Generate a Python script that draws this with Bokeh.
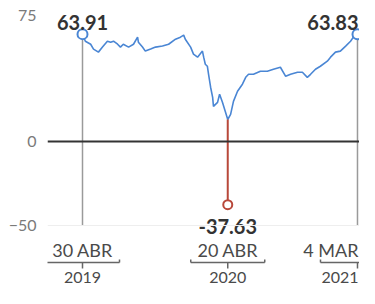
from datetime import datetime, timedelta
from bokeh.plotting import figure
from bokeh.models import Range1d, FixedTicker, Span
from bokeh.core.properties import value
from bokeh.embed import file_html
from bokeh.resources import INLINE

# ---- data ----
dates = ["2019-04-30", "2019-05-07", "2019-05-20", "2019-05-27", "2019-06-08", "2019-06-18",
         "2019-06-30", "2019-07-08", "2019-07-15", "2019-07-25", "2019-08-01", "2019-08-08",
         "2019-08-21", "2019-09-02", "2019-09-12", "2019-09-14", "2019-09-24", "2019-10-01",
         "2019-10-14", "2019-10-26", "2019-11-12", "2019-11-27", "2019-12-14", "2019-12-26",
         "2020-01-03", "2020-01-07", "2020-01-20", "2020-01-27", "2020-02-06", "2020-02-18",
         "2020-02-21", "2020-02-25", "2020-03-01", "2020-03-04", "2020-03-09", "2020-03-14",
         "2020-03-16", "2020-03-26", "2020-03-31", "2020-04-07", "2020-04-14", "2020-04-20",
         "2020-04-27", "2020-05-04", "2020-05-14", "2020-05-26", "2020-06-03", "2020-06-10",
         "2020-06-22", "2020-07-09", "2020-07-26", "2020-08-10", "2020-08-27", "2020-09-09",
         "2020-09-21", "2020-10-08", "2020-10-20", "2020-11-01", "2020-11-09", "2020-11-21",
         "2020-12-03", "2020-12-20", "2020-12-28", "2021-01-09", "2021-01-21", "2021-02-03",
         "2021-02-15", "2021-02-27", "2021-03-04"]
prices = [63.91, 59.7, 57.9, 55.0, 53.2, 56.2,
          59.7, 59.1, 59.7, 57.9, 56.2, 57.9,
          56.2, 57.9, 62.1, 59.1, 56.2, 53.8,
          55.0, 56.2, 56.8, 57.9, 60.9, 62.1,
          63.3, 60.9, 56.2, 52.0, 50.2, 53.8,
          50.2, 46.0, 44.8, 40.0, 32.3, 26.3,
          20.9, 23.3, 28.1, 23.3, 17.9, 13.1,
          16.1, 23.9, 29.9, 34.1, 38.2, 40.0,
          40.0, 41.8, 41.8, 43.0, 44.2, 38.8,
          40.0, 41.2, 41.2, 38.2, 40.0, 43.0,
          44.8, 47.8, 50.2, 53.2, 53.8, 56.8,
          59.7, 63.9, 63.83]

mark_dates = ["2019-04-30", "2020-04-20", "2021-03-04"]
mark_values = [63.91, -37.63, 63.83]
mark_labels = ["63.91", "-37.63", "63.83"]
day_labels = ["30 ABR", "20 ABR", "4 MAR"]
year_labels = ["2019", "2020", "2021"]
y_ticks = [-50, 0, 75]

# ---- layout constants ----
W, H = 359, 288
LEFT = 47
PX_PER_DAY = 0.408
X0_PX = 82
x0 = datetime(2019, 4, 30)
x_start = x0 - timedelta(days=(X0_PX - LEFT) / PX_PER_DAY)
x_end = x0 + timedelta(days=(W - X0_PX) / PX_PER_DAY)
ZERO_PX, PX_PER_UNIT = 141, 1.68
y_top = ZERO_PX / PX_PER_UNIT
y_bot = (ZERO_PX - H) / PX_PER_UNIT


def yv(px):
    return (ZERO_PX - px) / PX_PER_UNIT


d = [datetime.strptime(s, "%Y-%m-%d") for s in dates]
md = [datetime.strptime(s, "%Y-%m-%d") for s in mark_dates]

p = figure(width=W, height=H, x_axis_type="datetime", output_backend="svg",
           toolbar_location=None, x_range=Range1d(x_start, x_end),
           y_range=Range1d(y_bot, y_top),
           min_border_left=LEFT, min_border_right=0, min_border_top=0, min_border_bottom=0)
p.outline_line_color = None
p.xaxis.visible = False
p.xgrid.visible = False
p.ygrid.visible = False
p.background_fill_color = "white"

ax = p.yaxis[0]
ax.ticker = FixedTicker(ticks=y_ticks)
ax.axis_line_color = None
ax.major_tick_line_color = None
ax.minor_tick_line_color = None
ax.major_label_text_color = "#7a7a7a"
ax.major_label_text_font = "Lato"
ax.major_label_text_font_size = "16px"
ax.major_label_standoff = 5

# faint grid at -50 and zero line
p.add_layout(Span(location=-50, dimension="width", line_color="#eeeeee", line_width=1))
p.add_layout(Span(location=0, dimension="width", line_color="#333333", line_width=2))

# vertical gray drop lines at first and last dates
p.segment(x0=[md[0], md[2]], y0=[mark_values[0], mark_values[2]],
          x1=[md[0], md[2]], y1=[-50, -50], line_color="#9a9a9a", line_width=1.5)

# price line
p.line(d, prices, line_color="#4a86d4", line_width=1.6)

# red line down to the negative close
low_idx = dates.index(mark_dates[1])
p.segment(x0=[md[1]], y0=[prices[low_idx]], x1=[md[1]], y1=[mark_values[1]],
          line_color="#b8483a", line_width=2)

# markers
p.scatter([md[0], md[2]], [mark_values[0], mark_values[2]], size=10, marker="circle",
          fill_color="white", line_color="#4a86d4", line_width=2)
p.scatter([md[1]], [mark_values[1]], size=9, marker="circle",
          fill_color="white", line_color="#b8483a", line_width=2)

lab_font = value("Lato")

# value labels
p.text(md[:2], [yv(22), yv(226)], text=mark_labels[:2], text_font=lab_font,
       text_font_style="bold", text_font_size="20px", text_color="#333333",
       text_align="center", text_baseline="middle")
p.text([x_end], [yv(22)], text=mark_labels[2:], text_font=lab_font,
       text_font_style="bold", text_font_size="20px", text_color="#333333",
       text_align="right", text_baseline="middle", x_offset=-1)

# date labels
p.text(md[:2], [yv(249)] * 2, text=day_labels[:2], text_font=lab_font,
       text_font_size="18px", text_color="#4a4a4a", text_align="center",
       text_baseline="middle")
p.text([x_end], [yv(249)], text=day_labels[2:], text_font=lab_font,
       text_font_size="18px", text_color="#4a4a4a", text_align="right",
       text_baseline="middle", x_offset=-1)

# brackets
half = timedelta(days=37 / PX_PER_DAY)
br_x0 = [m - half for m in md]
br_x1 = [m + half for m in md]
by, bup, bdn = yv(262), yv(259), yv(268)
p.segment(x0=br_x0, y0=[by] * 3, x1=br_x1, y1=[by] * 3, line_color="#666666", line_width=1.5)
p.segment(x0=br_x0, y0=[by] * 3, x1=br_x0, y1=[bup] * 3, line_color="#666666", line_width=1.5)
p.segment(x0=br_x1, y0=[by] * 3, x1=br_x1, y1=[bup] * 3, line_color="#666666", line_width=1.5)
p.segment(x0=md, y0=[by] * 3, x1=md, y1=[bdn] * 3, line_color="#666666", line_width=1.5)

# years
p.text(md[:2], [yv(277)] * 2, text=year_labels[:2], text_font=lab_font,
       text_font_size="16px", text_color="#4a4a4a", text_align="center",
       text_baseline="middle")
p.text([x_end], [yv(277)], text=year_labels[2:], text_font=lab_font,
       text_font_size="16px", text_color="#4a4a4a", text_align="right",
       text_baseline="middle", x_offset=-1)

open("out.html", "w").write(file_html(p, INLINE))
